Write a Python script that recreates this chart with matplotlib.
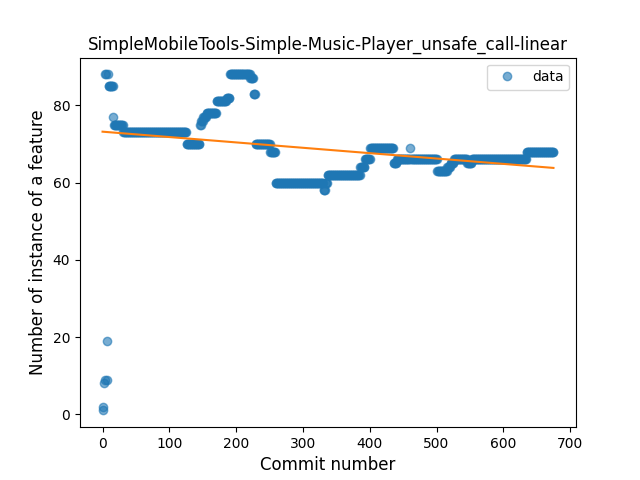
import matplotlib
matplotlib.use("Agg")
import matplotlib.pyplot as plt
import numpy as np

# early commits, read one by one
early_x = [0, 1, 2, 3, 4, 5, 6, 7, 8, 9, 10, 11, 12, 13, 14, 15]
early_y = [2, 1, 8, 9, 88, 88, 9, 19, 88, 85, 85, 85, 85, 85, 85, 85]

# later commits as runs of a constant value: (first commit, last commit, value)
run_start = [16, 17, 31, 126, 146, 148, 151, 156, 171, 186, 191, 221, 226, 229, 251, 259, 331, 334, 337,
             386, 393, 401, 436, 441, 461, 462, 501, 516, 521, 526, 546, 553, 635]
run_end = [16, 30, 125, 145, 147, 150, 155, 170, 185, 190, 220, 225, 228, 250, 258, 330, 333, 336, 385,
           392, 400, 435, 440, 460, 461, 500, 515, 520, 525, 545, 552, 634, 675]
run_value = [77, 75, 73, 70, 75, 76, 77, 78, 81, 82, 88, 87, 83, 70, 68, 60, 58, 60, 62,
             64, 66, 69, 65, 66, 69, 66, 63, 64, 65, 66, 65, 66, 68]

x = list(early_x)
y = list(early_y)
for s, e, v in zip(run_start, run_end, run_value):
    for c in range(s, e + 1):
        x.append(c)
        y.append(v)
x = np.array(x)
y = np.array(y)

fig, ax = plt.subplots(figsize=(6.4, 4.8), dpi=100)
ax.plot(x, y, 'o', alpha=0.6, label='data')
k, b = np.polyfit(x, y, 1)
ax.plot(x, k * x + b, color='tab:orange')
ax.set_title('SimpleMobileTools-Simple-Music-Player_unsafe_call-linear')
ax.set_xlabel('Commit number', fontsize=12)
ax.set_ylabel('Number of instance of a feature', fontsize=12)
ax.legend()
fig.savefig('out.png')
